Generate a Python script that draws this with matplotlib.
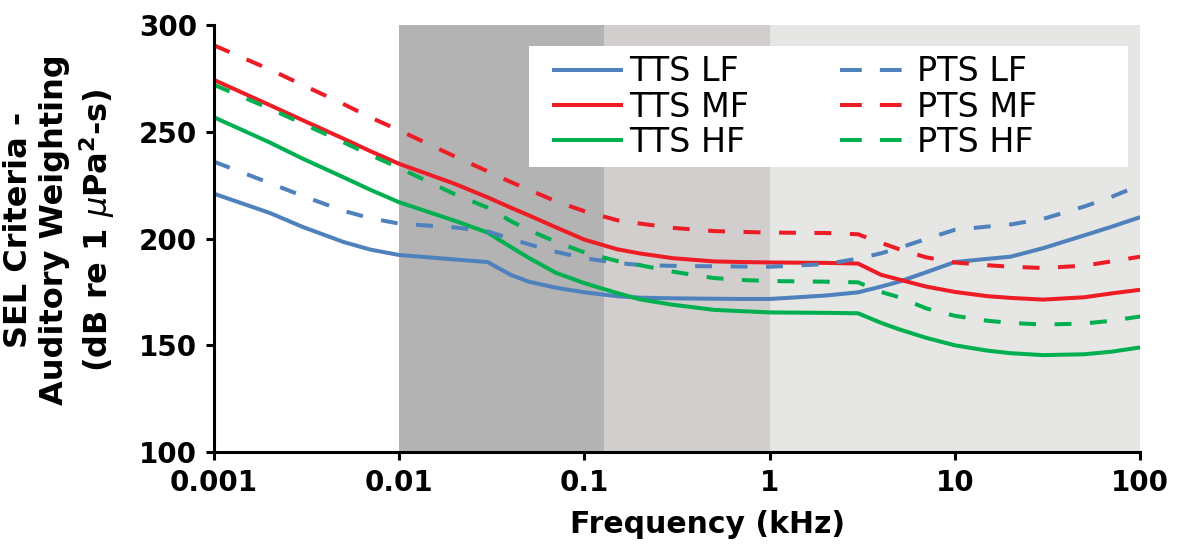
"""SEL criteria with auditory weighting for TTS and PTS onset, by hearing group."""

import matplotlib
matplotlib.use("Agg")
import matplotlib.pyplot as plt
from matplotlib.patches import Rectangle

# Frequency grid (kHz) and SEL criteria (dB re 1 uPa^2-s)
freq_khz = [0.001, 0.002, 0.003, 0.005, 0.007, 0.01, 0.02, 0.03, 0.04, 0.05,
            0.07, 0.1, 0.15, 0.2, 0.3, 0.5, 0.7, 1, 2, 3,
            4, 5, 7, 10, 15, 20, 30, 50, 70, 100]

tts_lf = [221, 212, 205.5, 198.4, 194.8, 192.3, 190.2, 189, 183, 179.8,
          177, 174.8, 173, 172.3, 172, 171.8, 171.7, 171.7, 173.3, 174.8,
          177.5, 179.8, 184.2, 189, 190.5, 191.5, 195.5, 201.5, 205.5, 210]
tts_mf = [274.3, 262.5, 255.5, 246.8, 240.9, 235, 225.6, 219.3, 214.5, 210.9,
          205.3, 199.5, 195, 193, 190.8, 189.3, 189, 188.8, 188.6, 188.3,
          183, 180.8, 177.5, 175, 173, 172.2, 171.4, 172.5, 174.3, 176]
tts_hf = [256.8, 245, 237.5, 228.7, 222.8, 217, 208.3, 202.8, 196.1, 191,
          184, 179.1, 174.5, 171.5, 169, 166.6, 166, 165.4, 165.2, 165,
          160.5, 157.5, 153.5, 150, 147.5, 146.3, 145.4, 145.8, 147, 149]
pts_lf = [236, 226, 220, 213, 209.5, 207, 205.2, 203.3, 200, 197.3,
          193.8, 190.8, 188.6, 187.6, 187.2, 187, 186.9, 186.8, 188, 190.6,
          193.1, 195.6, 199.8, 204.1, 205.6, 206.6, 209.2, 215, 219.5, 225]
pts_mf = [290.5, 279.2, 272, 263, 256.7, 250.7, 238.4, 231.5, 226.5, 222.9,
          217.5, 212.8, 208.6, 207, 205, 203.5, 203.1, 202.8, 202.6, 202,
          198, 195, 191.2, 188.8, 187.5, 186.8, 186.2, 187.3, 189.3, 191.5]
pts_hf = [272, 260.9, 253.9, 245.1, 239.1, 233.1, 220.7, 214.5, 208.2, 204,
          198.5, 193.5, 189.5, 187.5, 184.5, 181.5, 180.6, 180.1, 179.8, 179.5,
          175, 172.5, 167.3, 163.8, 161.5, 160.5, 159.7, 160.2, 161.5, 163.5]

# Shaded frequency bands (kHz)
band_edges = [0.01, 0.128, 1, 100]
band_colors = ["#B3B3B3", "#D1CECD", "#E6E6E4"]

x_ticks = [0.001, 0.01, 0.1, 1, 10, 100]
x_tick_labels = ["0.001", "0.01", "0.1", "1", "10", "100"]
y_ticks = [100, 150, 200, 250, 300]

BLUE, RED, GREEN = "#4F81BD", "#EE1C25", "#00B050"
DASH = (4.2, 4.6)         # plot lines, in units of linewidth
LEGEND_DASH = (5.4, 4.5)  # legend handles show two long dashes

fig = plt.figure(figsize=(11.84, 5.44), dpi=100)
ax = fig.add_axes([0.1807, 0.169, 0.7822, 0.785])

for lo, hi, c in zip(band_edges[:-1], band_edges[1:], band_colors):
    ax.axvspan(lo, hi, color=c, lw=0, zorder=0)

lw = 2.9
series = [
    (tts_lf, BLUE, "-", "TTS LF"),
    (tts_mf, RED, "-", "TTS MF"),
    (tts_hf, GREEN, "-", "TTS HF"),
    (pts_lf, BLUE, "--", "PTS LF"),
    (pts_mf, RED, "--", "PTS MF"),
    (pts_hf, GREEN, "--", "PTS HF"),
]
for vals, col, ls, lab in series:
    line, = ax.plot(freq_khz, vals, color=col, lw=lw, ls=ls, label=lab, zorder=3,
                    solid_joinstyle="round", solid_capstyle="butt")
    if ls == "--":
        line.set_dashes(DASH)

ax.set_xscale("log")
ax.set_xlim(0.001, 100)
ax.set_ylim(100, 300)
ax.set_xticks(x_ticks)
ax.set_xticklabels(x_tick_labels)
ax.xaxis.set_minor_locator(matplotlib.ticker.NullLocator())
ax.set_yticks(y_ticks)

for side in ["top", "right"]:
    ax.spines[side].set_visible(False)
for side in ["left", "bottom"]:
    ax.spines[side].set_linewidth(2.2)
    ax.spines[side].set_zorder(5)
ax.tick_params(axis="both", direction="out", length=6, width=2.2, pad=6,
               labelsize=20)
for t in ax.get_xticklabels() + ax.get_yticklabels():
    t.set_fontweight("bold")

ax.set_xlabel("Frequency (kHz)", fontsize=21.5, fontweight="bold")
ax.xaxis.set_label_coords(0.533, -0.135)
ax.set_ylabel("SEL Criteria -\nAuditory Weighting\n(dB re 1 $\\mu$Pa$^\\mathbf{2}$-s)",
              fontsize=23, fontweight="bold", linespacing=1.22)
ax.yaxis.set_label_coords(-0.105, 0.52)

# white legend panel
ax.add_patch(Rectangle((0.340, 0.667), 0.647, 0.284, transform=ax.transAxes,
                       facecolor="white", edgecolor="none", zorder=4))
leg = ax.legend(ncol=2, loc="upper left", bbox_to_anchor=(0.365, 0.929),
                borderaxespad=0, borderpad=0, fontsize=24, handlelength=2.13,
                handletextpad=0.18, columnspacing=2.72, labelspacing=0.065,
                frameon=False)
leg.set_zorder(5)
for hl in leg.get_lines():
    if hl.get_linestyle() != "-":
        hl.set_dashes(LEGEND_DASH)

fig.savefig("out.png", dpi=100)
